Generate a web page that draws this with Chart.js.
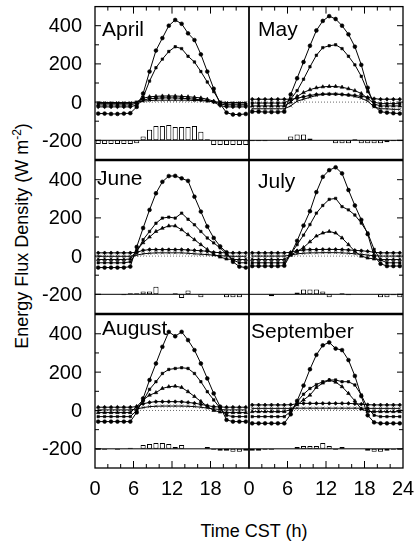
<!DOCTYPE html>
<html>
<head>
<meta charset="utf-8">
<script src="https://cdn.jsdelivr.net/npm/chart.js@4"></script>
<style>
  body { margin: 0; background: #fff; width: 416px; height: 542px; position: relative; overflow: hidden;
         font-family: "Liberation Sans", Arial, sans-serif; color: #000; }
  #ytitle { position: absolute; left: 21px; top: 236px; transform: translate(-50%, -50%) rotate(-90deg);
            white-space: nowrap; font-size: 18px; }
  #ytitle sup { font-size: 12px; }
  #xtitle { position: absolute; left: 254px; top: 531px; transform: translate(-50%, -50%);
            white-space: nowrap; font-size: 18px; }
</style>
</head>
<body>
<div id="ytitle">Energy Flux Density (W m<sup>-2</sup>)</div>
<div id="xtitle">Time CST (h)</div>
<script>
// hour of day (mid hour) for every value
const HOURS = [0.5, 1.5, 2.5, 3.5, 4.5, 5.5, 6.5, 7.5, 8.5, 9.5, 10.5, 11.5,
               12.5, 13.5, 14.5, 15.5, 16.5, 17.5, 18.5, 19.5, 20.5, 21.5, 22.5, 23.5];
const MONTHS = ['April', 'May', 'June', 'July', 'August', 'September'];

const Y_MAJOR = [-200, 0, 200, 400];
const Y_MINOR = [-100, 100, 300];
const X_MAJOR = [6, 12, 18];
const X_MINOR = [2, 4, 8, 10, 14, 16, 20, 22];
const X_LABELS_LEFT = [0, 6, 12, 18];
const X_LABELS_RIGHT = [0, 6, 12, 18, 24];
const BASELINE = -200;   // residual bars hang from this level
const ZERO = 0;

// April
const aprRn = [-60,-60,-62,-62,-60,-58,-25,45,160,270,335,400,430,410,360,325,250,160,70,-10,-55,-65,-65,-62];
const aprLE = [-8,-8,-8,-8,-8,-8,0,25,110,180,225,265,290,280,240,210,160,105,55,0,-10,-10,-10,-10];
const aprH  = [-15,-15,-15,-15,-15,-15,-5,20,28,30,32,32,32,30,28,25,22,15,5,-10,-15,-15,-15,-15];
const aprG  = [-25,-25,-25,-25,-25,-25,-15,10,18,20,22,22,22,20,18,15,12,8,0,-18,-25,-25,-25,-25];
const aprS  = [-2,-2,-2,-2,-2,-2,0,5,8,10,10,10,10,10,10,8,8,5,2,0,-2,-2,-2,-2];
const aprRes = [-20,-20,-20,-20,-20,-20,-15,20,55,75,75,80,70,70,70,75,45,5,-25,-25,-25,-25,-25,-25];

// May
const mayRn = [-50,-50,-52,-52,-52,-50,40,125,210,295,375,425,450,435,400,355,290,195,75,-20,-50,-55,-58,-60];
const mayLE = [-5,-5,-5,-5,-5,-5,15,60,120,185,245,285,295,300,280,240,195,135,55,0,-8,-8,-8,-8];
const mayH  = [-20,-20,-20,-20,-20,-20,0,30,50,65,75,80,82,82,78,70,60,45,20,-10,-20,-20,-20,-20];
const mayG  = [15,15,15,15,15,15,15,20,28,35,40,42,42,42,40,38,35,30,25,18,15,15,15,15];
const mayS  = [-35,-35,-35,-35,-35,-35,-20,5,15,25,35,40,42,42,40,35,30,20,5,-25,-35,-35,-38,-38];
const mayRes = [-5,-5,-5,0,0,0,20,30,30,10,0,0,2,-15,-15,-15,5,-15,-15,-15,-15,-10,-5,-5];

// June
const junRn = [-60,-60,-60,-60,-60,-55,48,147,242,329,389,419,420,407,394,311,233,155,95,51,20,-30,-55,-60];
const junLE = [-35,-35,-35,-35,-35,-30,20,86,129,172,199,204,199,225,193,164,129,95,69,43,10,-20,-35,-35];
const junH  = [-18,-18,-18,-18,-18,-15,30,70,100,129,146,158,158,138,112,86,60,35,8,-5,-15,-18,-18,-18];
const junG  = [17,17,17,17,17,17,20,30,34,34,34,34,34,34,32,30,28,25,20,18,17,17,17,17];
const junS  = [-1,-1,-1,-1,-1,-1,5,12,15,17,17,17,17,17,15,12,10,8,5,2,0,-1,-1,-1];
const junRes = [0,0,0,0,-5,5,5,15,15,40,0,0,5,-20,20,0,-15,0,0,0,-15,-15,-15,0];

// July
const julRn = [-52,-52,-52,-52,-52,-50,10,80,160,235,335,415,450,465,433,346,265,190,115,0,-40,-52,-52,-52];
const julLE = [-35,-35,-35,-35,-35,-35,10,60,110,165,225,265,297,302,259,242,215,173,121,35,-20,-35,-35,-35];
const julH  = [-18,-18,-18,-18,-18,-18,5,25,45,75,105,121,129,121,95,60,25,0,-10,-15,-18,-18,-18,-18];
const julG  = [17,17,17,17,17,17,20,28,32,34,34,35,35,35,34,32,30,28,25,20,17,17,17,17];
const julS  = [0,0,0,0,0,0,5,12,15,17,17,18,18,18,17,15,12,10,5,2,0,0,0,0];
const julRes = [0,0,0,-10,0,0,0,10,25,25,25,15,-15,0,5,-5,0,0,0,0,-15,-15,-5,-15];

// August
const augRn = [-58,-58,-58,-58,-58,-58,-10,63,159,245,332,410,387,410,367,315,245,167,89,20,-49,-58,-58,-58];
const augLE = [-32,-32,-32,-32,-32,-32,0,50,110,150,193,214,219,223,219,193,150,98,55,12,-25,-32,-32,-32];
const augH  = [-11,-11,-11,-11,-11,-11,20,55,80,93,115,124,127,120,98,73,47,21,0,-8,-11,-11,-11,-11];
const augG  = [17,17,17,17,17,17,20,35,42,46,46,46,46,45,42,38,32,25,20,18,17,17,17,17];
const augS  = [3,3,3,3,3,3,8,15,20,22,23,23,23,23,22,20,17,12,8,5,3,3,3,3];
const augRes = [-5,-5,0,-5,0,5,0,20,25,30,30,25,10,20,0,0,0,10,-5,-10,-10,-15,-15,-10];

// September
const sepRn = [-67,-67,-67,-67,-67,-67,-20,50,130,215,290,340,355,323,315,263,180,75,-25,-62,-67,-67,-67,-67];
const sepLE = [-32,-32,-32,-32,-32,-32,-5,45,85,115,135,150,159,159,150,150,133,81,11,-25,-32,-32,-32,-32];
const sepH  = [-6,-6,-6,-6,-6,-6,5,30,55,80,120,143,158,148,124,89,50,8,-5,-6,-6,-6,-6,-6];
const sepG  = [29,29,29,29,29,29,30,35,37,37,37,37,37,37,37,37,35,33,30,29,29,29,29,29];
const sepS  = [11,11,11,11,11,11,11,12,12,12,12,12,12,12,12,12,12,12,11,11,11,11,11,11];
const sepRes = [-10,-10,-5,-5,0,0,0,10,15,15,15,30,15,-5,10,0,0,0,-10,-15,-15,-10,-5,-5];

const SERIES = [
  [aprRn, aprLE, aprH, aprG, aprS, aprRes],
  [mayRn, mayLE, mayH, mayG, mayS, mayRes],
  [junRn, junLE, junH, junG, junS, junRes],
  [julRn, julLE, julH, julG, julS, julRes],
  [augRn, augLE, augH, augG, augS, augRes],
  [sepRn, sepLE, sepH, sepG, sepS, sepRes]
];

// panel geometry (pixels)
const PANEL_LEFT = 95, PANEL_TOP = 6, PANEL_W = 154, PANEL_H = 154;
// month label offset inside each panel: [dx, baseline dy]
const LABEL_POS = [[7, 29], [9, 29], [2, 24], [9, 27], [7, 20], [2, 23]];
const FONT = '"Liberation Sans", Arial, sans-serif';

const framePlugin = {
  id: 'frame',
  afterDraw(chart, args, opts) {
    const { ctx, chartArea: a, scales: { x, y } } = chart;
    ctx.save();
    ctx.strokeStyle = '#000';
    ctx.fillStyle = '#000';
    ctx.lineWidth = 1.3;
    ctx.strokeRect(a.left, a.top, a.right - a.left, a.bottom - a.top);
    ctx.lineWidth = 1;
    ctx.beginPath();
    // y ticks, inward on the outer side
    const yEdge = opts.col === 0 ? a.left : a.right;
    const dir = opts.col === 0 ? 1 : -1;
    Y_MAJOR.forEach(v => { const p = y.getPixelForValue(v); ctx.moveTo(yEdge, p); ctx.lineTo(yEdge + dir * 6, p); });
    Y_MINOR.forEach(v => { const p = y.getPixelForValue(v); ctx.moveTo(yEdge, p); ctx.lineTo(yEdge + dir * 4, p); });
    // x ticks on top row and bottom row
    if (opts.row !== 1) {
      const xEdge = opts.row === 0 ? a.top : a.bottom;
      const d = opts.row === 0 ? 1 : -1;
      X_MAJOR.forEach(v => { const p = x.getPixelForValue(v); ctx.moveTo(p, xEdge); ctx.lineTo(p, xEdge + d * 7); });
      X_MINOR.forEach(v => { const p = x.getPixelForValue(v); ctx.moveTo(p, xEdge); ctx.lineTo(p, xEdge + d * 4); });
    }
    ctx.stroke();

    ctx.font = '20px ' + FONT;
    if (opts.col === 0) {
      ctx.textAlign = 'right';
      ctx.textBaseline = 'middle';
      Y_MAJOR.forEach(v => ctx.fillText(String(v), a.left - 13, y.getPixelForValue(v) + 1));
    }
    if (opts.row === 2) {
      ctx.textAlign = 'center';
      ctx.textBaseline = 'alphabetic';
      const labs = opts.col === 0 ? X_LABELS_LEFT : X_LABELS_RIGHT;
      labs.forEach(v => ctx.fillText(String(v), x.getPixelForValue(v), a.bottom + 27));
    }
    ctx.font = '21px ' + FONT;
    ctx.textAlign = 'left';
    ctx.textBaseline = 'alphabetic';
    ctx.fillText(opts.label, a.left + opts.pos[0], a.top + opts.pos[1]);
    ctx.restore();
  }
};

function lineSet(values, style, radius) {
  return {
    type: 'line',
    data: HOURS.map((h, k) => ({ x: h, y: values[k] })),
    borderColor: '#000', borderWidth: 1, tension: 0,
    pointStyle: style, pointRadius: radius,
    pointBackgroundColor: '#000', pointBorderColor: '#000', pointBorderWidth: 0.6,
    order: 1
  };
}

function makePanel(i) {
  const r = Math.floor(i / 2), c = i % 2;
  const [rn, le, h, g, s, res] = SERIES[i];
  const padL = c === 0 ? 60 : 12, padR = 12, padT = 4, padB = r === 2 ? 34 : 4;
  const left = PANEL_LEFT + c * PANEL_W - padL;
  const top = PANEL_TOP + r * PANEL_H - padT;
  const w = PANEL_W + padL + padR, hgt = PANEL_H + padT + padB;

  const canvas = document.createElement('canvas');
  canvas.width = w; canvas.height = hgt;
  canvas.style.cssText = `position:absolute;left:${left}px;top:${top}px;width:${w}px;height:${hgt}px`;
  document.body.appendChild(canvas);

  new Chart(canvas, {
    type: 'line',
    data: {
      datasets: [
        {
          type: 'bar',
          data: HOURS.map((hr, k) => ({ x: hr, y: [BASELINE, BASELINE + res[k]] })),
          backgroundColor: '#fff', borderColor: '#000', borderWidth: 1, borderSkipped: false,
          barPercentage: 0.8, categoryPercentage: 1, order: 3
        },
        {
          type: 'line',
          data: [{ x: 0, y: BASELINE }, { x: 24, y: BASELINE }],
          borderColor: '#000', borderWidth: 1, pointRadius: 0, order: 2
        },
        {
          type: 'line',
          data: [{ x: 0, y: ZERO }, { x: 24, y: ZERO }],
          borderColor: '#444', borderWidth: 0.8, borderDash: [1, 2], pointRadius: 0, order: 2
        },
        lineSet(s, 'crossRot', 2.2),
        lineSet(g, 'rectRot', 1.9),
        lineSet(h, 'triangle', 2.1),
        lineSet(le, 'rect', 1.7),
        lineSet(rn, 'circle', 1.9)
      ]
    },
    options: {
      responsive: false,
      devicePixelRatio: 1,
      animation: false,
      layout: { padding: { left: padL, right: padR, top: padT, bottom: padB } },
      scales: {
        x: { type: 'linear', min: 0, max: 24, offset: false, grid: { offset: false }, display: false },
        y: { type: 'linear', min: -300, max: 500, display: false }
      },
      plugins: {
        legend: { display: false },
        tooltip: { enabled: false },
        frame: { row: r, col: c, label: MONTHS[i], pos: LABEL_POS[i] }
      }
    },
    plugins: [framePlugin]
  });
}

for (let i = 0; i < MONTHS.length; i++) makePanel(i);
</script>
</body>
</html>
